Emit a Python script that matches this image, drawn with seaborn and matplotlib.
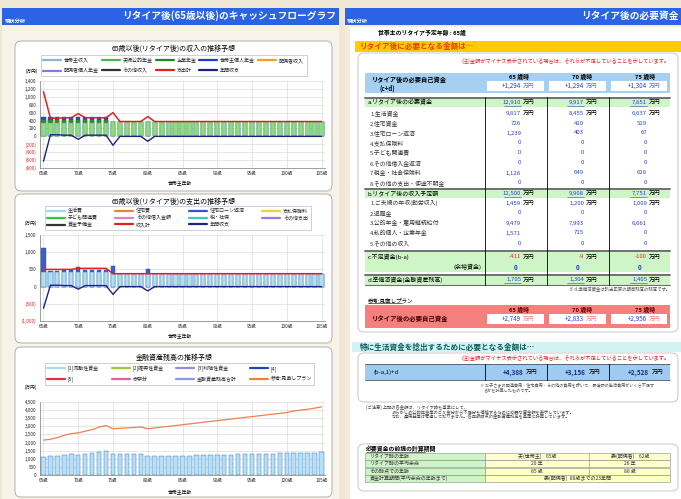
import numpy as np
import seaborn as sns
import matplotlib.pyplot as plt
from matplotlib.patches import Rectangle, FancyBboxPatch
from matplotlib.lines import Line2D

W, H = 681, 499

# ---- shared x axis ----
ages = list(range(65, 106))
age_tick_labels = ['65歳', '70歳', '75歳', '80歳', '85歳', '90歳', '95歳', '100歳', '105歳']

# ---- chart 1: income (万円) ----
public_pension = [350] * 10 + [370] * 31
corporate_pension = [60] * 10 + [0] * 31
private_pension = [90] * 10 + [0] * 31
expense_total = [1130, 460, 460, 470, 470, 575, 470, 470, 470, 470,
                 600, 375, 375, 375, 375, 500] + [375] * 25
annual_balance = [-630, 40, 40, 30, 30, -75, 30, 30, 30, 30,
                  -225, 0, 0, 0, 0, -125] + [0] * 25

# ---- chart 2: expenses (万円) ----
living_cost = [420] * 10 + [360] * 31
loan_repayment = [710, 40, 40, 50, 50, 155, 50, 50, 50, 50,
                  240, 15, 15, 15, 15, 140] + [15] * 25
income_total = [500] * 5 + [530] * 5 + [375] * 31

# ---- chart 3: financial assets (万円) ----
asset_balance = [1100, 1150, 1200, 1250, 1300, 1250, 1300, 1350, 1420, 1500,
                 1300, 1300, 1300, 1300, 1300, 1150, 1150, 1150, 1170, 1180,
                 1200, 1200, 1210, 1220, 1230, 1240, 1250, 1260, 1270, 1280,
                 1290, 1300, 1310, 1320, 1330, 1340, 1350, 1360, 1370, 1380, 1400]
review_plan = [2150, 2200, 2300, 2450, 2550, 2600, 2700, 2800, 2950, 3050,
               2850, 2880, 2900, 2930, 2960, 2850, 2900, 2950, 3000, 3050,
               3100, 3150, 3200, 3250, 3300, 3350, 3400, 3450, 3500, 3550,
               3600, 3650, 3700, 3750, 3800, 3850, 3950, 4000, 4050, 4120, 4200]

# ---- legends (row by row, as in the original) ----
income_legend = [('世帯主収入', '#8ab4d8'), ('夫婦公的年金', '#44bb44'), ('企業年金', '#228822'),
                 ('世帯主個人年金', '#1a3fcc'), ('配偶者収入', '#f0a020'), ('配偶者個人年金', '#8877dd'),
                 ('その他収入', '#333333'), ('支出計', '#e02020'), ('年間収支', '#1a237e')]
expense_legend = [('生活費', '#9fd8f0'), ('住宅費', '#e8843a'), ('住宅ローン返済', '#3355cc'),
                  ('支払保険料', '#f0d040'), ('子ども関連費', '#33cc33'), ('その他借入金額', '#e080c0'),
                  ('税・社保', '#33cccc'), ('その他支出', '#9977dd'), ('資金予備金', '#333333'),
                  ('収入計', '#e02020'), ('年間収支', '#1a237e')]
asset_legend = [('[1]流動性資金', '#a8dcf0'), ('[2]確実性資金', '#99cc33'), ('[3]利殖性資金', '#9988dd'),
                ('[4]', '#2244bb'), ('[5]', '#dd3344'), ('赤字分', '#e060a0'),
                ('金融資産残高合計', '#8899dd'), ('参考:見直しプラン', '#f08040')]

# ---- right-hand table ----
col_ages = ['65', '70', '75']
required_self = ['+1,294', '+1,294', '+1,304']
a_total = ['12,910', '9,917', '7,851']
a_labels = ['1.生活資金', '2.住宅資金', '3.住宅ローン返済', '4.支払保険料', '5.子ども関連費',
            '6.その他借入金返済', '7.税金・社会保険料', '8.その他の支出・使途不明金']
a_values = [['9,817', '8,455', '6,637'], ['726', '410', '519'], ['1,239', '403', '67'],
            ['0', '0', '0'], ['0', '0', '0'], ['0', '0', '0'], ['1,128', '649', '628'], ['0', '0', '0']]
b_total = ['12,500', '9,908', '7,751']
b_labels = ['1.ご夫婦の年収(勤労収入)', '2.退職金', '3.公的年金・雇用継続給付', '4.私的個人・企業年金', '5.その他の収入']
b_values = [['1,459', '1,200', '1,009'], ['0', '0', '0'], ['9,479', '7,993', '6,661'],
            ['1,571', '715', '0'], ['0', '0', '0']]
c_values = ['-411', '-9', '-100']
surplus_values = ['0', '0', '0']
d_values = ['1,705', '1,304', '1,405']
review_values = ['+2,749', '+2,833', '+2,956']
living_need = ['+4,388', '+3,156', '+2,528']
period_rows = [('リタイア時の年齢', '夫(世帯主)    65歳', '妻(配偶者)    62歳'),
               ('リタイア時の平均余命', '20 年', '26 年'),
               ('その時点での年齢', '85 歳', '88 歳'),
               ('資金計算期間(平均余命の年齢まで)', '妻(配偶者)  88歳までの23年間', None)]


def px_axes(fig, x0, y0, x1, y1):
    """Add an axes given pixel corners (top-left origin)."""
    return fig.add_axes([x0 / W, 1 - y1 / H, (x1 - x0) / W, (y1 - y0) / H])


def txt(ax, x, y, s, size=4.5, color='black', ha='left', weight='normal', **kw):
    ax.text(x, y, s, fontsize=size, color=color, ha=ha, va='center', weight=weight, **kw)


def rect(ax, x0, y0, x1, y1, fc, ec='none', lw=0.5, z=1):
    ax.add_patch(Rectangle((x0, y0), x1 - x0, y1 - y0, facecolor=fc, edgecolor=ec, linewidth=lw, zorder=z))


def rbox(ax, x0, y0, x1, y1, fc='white', ec='#b0b0b0', lw=0.7):
    ax.add_patch(FancyBboxPatch((x0, y0), x1 - x0, y1 - y0, boxstyle='round,pad=0,rounding_size=6',
                                facecolor=fc, edgecolor=ec, linewidth=lw, zorder=1))


def style_chart(ax, yticks, ylabels):
    ax.set_xlim(-0.5, len(ages) - 0.5)
    ax.set_ylim(yticks[0], yticks[-1])
    ax.set_xticks(range(0, len(ages), 5))
    ax.set_xticklabels(age_tick_labels, fontsize=3.3)
    ax.set_yticks(yticks)
    ax.set_yticklabels(ylabels, fontsize=3.3)
    for lbl, v in zip(ax.get_yticklabels(), yticks):
        if v < 0:
            lbl.set_color('#e02020')
    ax.grid(True, color='#d4d4d4', linewidth=0.4)
    ax.set_axisbelow(True)
    for side in ['top', 'right']:
        ax.spines[side].set_visible(False)
    for side in ['left', 'bottom']:
        ax.spines[side].set_color('#777777')
        ax.spines[side].set_linewidth(0.5)
    ax.tick_params(length=1.5, width=0.4, pad=1)
    ax.set_xlabel('')
    ax.set_ylabel('')


def add_legend(fig, ax, entries, ncol, box, spacing):
    # matplotlib fills legends column by column, so reorder to read row by row
    ordered = [e for c in range(ncol) for e in entries[c::ncol]]
    x0, y0, x1, y1 = box
    handles = [Line2D([0], [0], color=c, lw=1.6) for _, c in ordered]
    labels = [n for n, _ in ordered]
    leg = ax.legend(handles, labels, ncol=ncol, loc='center', mode='expand',
                    bbox_to_anchor=(x0 / W, 1 - y1 / H, (x1 - x0) / W, (y1 - y0) / H),
                    bbox_transform=fig.transFigure, fontsize=3.6, frameon=True, fancybox=False,
                    edgecolor='#999999', handlelength=3.6, handletextpad=0.6, borderpad=0.5,
                    labelspacing=spacing, columnspacing=0.8)
    leg.get_frame().set_linewidth(0.4)


def stacked_bars(ax, layers, width=0.6):
    """layers: list of (values, color, edge) from bottom to top; drawn as cumulative totals."""
    cum = np.cumsum([v for v, _, _ in layers], axis=0)
    for i in range(len(layers) - 1, -1, -1):
        _, color, edge = layers[i]
        sns.barplot(x=ages, y=cum[i], color=color, width=width, saturation=1, errorbar=None,
                    edgecolor=edge, linewidth=0.3, ax=ax)


def draw_left(fig, bg):
    idx = np.arange(len(ages))
    # header
    rect(bg, 2, 8, 339, 25, '#2a64e4')
    txt(bg, 5, 21, '現状分析', size=3.8, color='white', weight='bold')
    txt(bg, 336, 16, 'リタイア後(65歳以後)のキャッシュフローグラフ', size=7.0, color='white', ha='right', weight='bold')
    rect(bg, 2, 25, 339, 499, '#f8f3e8')

    # chart 1
    rbox(bg, 15, 41, 332, 191)
    txt(bg, 174, 49, '65歳以後(リタイア後)の収入の推移予想', size=5.0, ha='center')
    txt(bg, 26, 71, '(万円)', size=3.3)
    txt(bg, 180, 184, '世帯主年齢', size=3.5, ha='center')
    ax1 = px_axes(fig, 40, 81, 325, 168)
    stacked_bars(ax1, [(public_pension, '#8edc80', '#55b050'),
                       (corporate_pension, '#2e8b2e', '#2e8b2e'),
                       (private_pension, '#1f47d0', '#1f47d0')])
    sns.lineplot(x=idx, y=expense_total, color='#e02020', linewidth=1.1, ax=ax1)
    sns.lineplot(x=idx, y=annual_balance, color='#1a237e', linewidth=1.0, ax=ax1)
    yt = list(range(-800, 1401, 200))
    style_chart(ax1, yt, [f'{v:,}' if v >= 0 else f'({-v:,})' for v in yt])
    add_legend(fig, ax1, income_legend, 5, (38, 53, 309, 78), 1.0)

    # chart 2
    rbox(bg, 15, 194, 332, 343)
    txt(bg, 174, 202, '65歳以後(リタイア後)の支出の推移予想', size=5.0, ha='center')
    txt(bg, 25, 223, '(万円)', size=3.3)
    txt(bg, 180, 337, '世帯主年齢', size=3.5, ha='center')
    ax2 = px_axes(fig, 40, 235, 325, 321)
    stacked_bars(ax2, [(living_cost, '#aee0f2', '#2f6fbf'),
                       (loan_repayment, '#3a5fcd', '#2a4fb0')])
    sns.lineplot(x=idx, y=income_total, color='#e02020', linewidth=1.1, ax=ax2)
    sns.lineplot(x=idx, y=annual_balance, color='#1a237e', linewidth=1.0, ax=ax2)
    yt = list(range(-1000, 1501, 500))
    style_chart(ax2, yt, [f'{v:,}' if v >= 0 else f'({-v:,})' for v in yt])
    add_legend(fig, ax2, expense_legend, 4, (42, 206, 313, 230), 0.35)

    # chart 3
    rbox(bg, 15, 347, 332, 497)
    txt(bg, 174, 358, '金融資産残高の推移予想', size=5.0, ha='center')
    txt(bg, 25, 387, '(万円)', size=3.3)
    txt(bg, 180, 493, '世帯主年齢', size=3.5, ha='center')
    ax3 = px_axes(fig, 40, 402, 325, 475)
    stacked_bars(ax3, [(asset_balance, '#b3e2f6', '#2f5fb8')], width=0.65)
    sns.lineplot(x=idx, y=review_plan, color='#f08050', linewidth=0.9, ax=ax3)
    yt = list(range(0, 4501, 500))
    style_chart(ax3, yt, [f'{v:,}' for v in yt])
    add_legend(fig, ax3, asset_legend, 4, (42, 362, 317, 386), 1.0)


def draw_right(bg):
    cols_x = [485, 547, 609, 670]
    num_end = [521, 584, 647]
    unit_x = [523, 586, 649]
    blue = '#2a3fcc'

    rect(bg, 345, 8, 681, 25, '#2a64e4')
    txt(bg, 347, 21, '現状分析', size=3.8, color='white', weight='bold')
    txt(bg, 679, 16, 'リタイア後の必要資金', size=7.0, color='white', ha='right', weight='bold')
    rect(bg, 345, 25, 681, 499, '#f3ecdd')
    rect(bg, 350, 27, 681, 499, 'white')

    txt(bg, 378, 33, '世帯主のリタイア予定年齢 : 65歳', size=4.2, weight='bold')
    rect(bg, 355, 41, 681, 52, '#ffcc00')
    txt(bg, 360, 46.5, 'リタイア後に必要となる金額は…', size=5.5, color='#e04000', weight='bold')
    rbox(bg, 358, 53, 678, 332, ec='#c8c8c8')
    txt(bg, 670, 61, '(注)金額がマイナス表示されている場合は、それらが不足していることを示しています。',
        size=3.8, color='#e02020', ha='right')

    # required own funds box
    rect(bg, 365, 73, 670, 93, '#a6d0f2', z=2)
    txt(bg, 372, 79, 'リタイア後の必要自己資金', size=4.5, weight='bold', zorder=3)
    txt(bg, 380, 88, '(c+d)', size=4.5, weight='bold', zorder=3)
    for i in range(3):
        txt(bg, num_end[i] + 8, 77, f'{col_ages[i]} 歳時', size=4.2, ha='right', weight='bold', zorder=3)
        rect(bg, cols_x[i] + 2, 81, cols_x[i + 1] - 3, 91, 'white', z=3)
        txt(bg, num_end[i], 86, required_self[i], size=4.5, color=blue, ha='right', zorder=4)
        txt(bg, unit_x[i], 86, '万円', size=4.2, color='#6070d0', zorder=4)

    def green_row(y0, y1):
        rect(bg, 365, y0, 670, y1, '#cdf5c6', z=2)
        bg.plot([365, 670], [y0, y0], color='#707070', lw=1.4, zorder=3)

    def value_cells(y, vals, unit=False, color=blue, weight='normal', underline=False):
        for i, v in enumerate(vals):
            txt(bg, num_end[i], y, v, size=4.3, color=color, ha='right', weight=weight, zorder=4)
            if unit:
                txt(bg, unit_x[i], y, '万円', size=4.2, color='black', zorder=4)
                if underline:
                    bg.plot([num_end[i] - 17, num_end[i]], [y + 3, y + 3], color=color, lw=0.4, zorder=4)

    # a block
    green_row(98, 107)
    txt(bg, 368, 102.5, 'a.リタイア後の必要資金', size=4.3, zorder=4)
    value_cells(102.5, a_total, unit=True, underline=True)
    for r, (lab, vals) in enumerate(zip(a_labels, a_values)):
        y = 113 + 10 * r
        txt(bg, 370, y, lab, size=4.2, color='#333333', zorder=4)
        value_cells(y, vals, unit=(r == 0))
    # b block
    green_row(189, 198)
    txt(bg, 368, 193.5, 'b.リタイア後の収入予定額', size=4.3, zorder=4)
    value_cells(193.5, b_total, unit=True, underline=True)
    for r, (lab, vals) in enumerate(zip(b_labels, b_values)):
        y = 203 + 10 * r
        txt(bg, 370, y, lab, size=4.2, color='#333333', zorder=4)
        value_cells(y, vals, unit=(r == 0))
    # c block
    green_row(251, 272)
    txt(bg, 368, 257, 'c.不足資金(b-a)', size=4.3, zorder=4)
    txt(bg, 482, 267, '(余裕資金)', size=4.3, ha='right', zorder=4)
    value_cells(257, c_values, unit=True, color='#e03030')
    for i, v in enumerate(surplus_values):
        txt(bg, (cols_x[i] + cols_x[i + 1]) / 2, 267, v, size=4.5, color=blue, ha='center', weight='bold', zorder=4)
    # d block
    green_row(275, 285)
    bg.plot([365, 670], [285, 285], color='#707070', lw=0.8, zorder=3)
    txt(bg, 368, 280, 'd.準備済資金(金融資産残高)', size=4.3, zorder=4)
    value_cells(280, d_values, unit=True, underline=True)
    for x in cols_x[:3]:
        bg.plot([x, x], [97, 285], color='black', lw=0.6, zorder=3)
    txt(bg, 670, 290, '※ d.準備済資金は該当年度の期首残高の残高です。', size=3.2, color='#555555', ha='right')

    # review plan
    txt(bg, 368, 300, '参考:見直しプラン', size=4.0, zorder=4)
    bg.plot([368, 402], [303, 303], color='black', lw=0.4, zorder=4)
    rect(bg, 365, 305, 670, 328, '#f4807e', z=2)
    txt(bg, 372, 319, 'リタイア後の必要自己資金', size=4.6, color='#400000', weight='bold', zorder=4)
    for i in range(3):
        txt(bg, num_end[i] + 8, 310, f'{col_ages[i]} 歳時', size=4.2, color='#600000', ha='right', weight='bold', zorder=4)
        rect(bg, cols_x[i] + 2, 314, cols_x[i + 1] - 3, 324, 'white', z=3)
        txt(bg, num_end[i], 319, review_values[i], size=4.5, color=blue, ha='right', zorder=4)
        txt(bg, unit_x[i], 319, '万円', size=4.2, color='#f08080', zorder=4)

    # living-fund section
    rect(bg, 352, 342, 681, 352, '#d2f3f3')
    txt(bg, 360, 347, '特に生活資金を捻出するために必要となる金額は…', size=5.5, color='#0a5a5a', weight='bold')
    rbox(bg, 358, 353, 678, 402, ec='#c8c8c8')
    txt(bg, 670, 358, '(注)金額がマイナス表示されている場合は、それらが不足していることを示しています。',
        size=3.8, color='#e02020', ha='right')
    rect(bg, 365, 364, 670, 380, '#9ecbf2', z=2)
    bg.plot([365, 670], [364, 364], color='#555555', lw=0.6, zorder=3)
    bg.plot([365, 670], [380, 380], color='#555555', lw=0.6, zorder=3)
    txt(bg, 373, 372, '(b-a,1)+d', size=4.3, zorder=4)
    for i in range(3):
        bg.plot([cols_x[i], cols_x[i]], [364, 380], color='black', lw=0.6, zorder=3)
        txt(bg, num_end[i] + 2, 372, living_need[i], size=4.6, color='#1a2a80', ha='right', weight='bold', zorder=4)
        txt(bg, unit_x[i] + 3, 372, '万円', size=4.2, zorder=4)
    txt(bg, 480, 385, '※ お子さまの関連費用・住宅費用・その他の費用を除いて、最低限の生活費用がいくら不足す',
        size=3.0, color='#555555')
    txt(bg, 484, 390, 'るかを計算したものです。', size=3.0, color='#555555')

    txt(bg, 366, 407, '(ご注意) 上記の各金額は、リタイア時を基準にして、', size=3.1, color='#444444')
    txt(bg, 392, 412, 'あらかじめ公的年金等のご入金分から不足分を補填するために必要な資金額を表示しています。',
        size=3.1, color='#444444')
    txt(bg, 392, 417, 'なお、運用益等は考慮しておりません。各年齢時点の金融資産残高を基準に計算しています。',
        size=3.1, color='#444444')

    # calculation period table
    rbox(bg, 358, 444, 678, 491, ec='#c8c8c8')
    txt(bg, 366, 449, '必要資金の前提の計算期間', size=4.2, weight='bold', zorder=4)
    bg.plot([366, 425], [452, 452], color='black', lw=0.4, zorder=4)
    for r, (lab, v1, v2) in enumerate(period_rows):
        y0, y1 = 453 + 7.3 * r, 460 + 7.3 * r
        rect(bg, 365, y0, 485, y1, '#cdf5c6', ec='#888888', lw=0.4, z=2)
        rect(bg, 485, y0, 670, y1, '#ffffc8', ec='#888888', lw=0.4, z=2)
        yc = (y0 + y1) / 2
        txt(bg, 370, yc, lab, size=3.6, color='#333333', zorder=4)
        if v2 is None:
            txt(bg, 577, yc, v1, size=3.6, color='#333333', ha='center', zorder=4)
        else:
            bg.plot([589, 589], [y0, y1], color='#888888', lw=0.4, zorder=3)
            txt(bg, 537, yc, v1, size=3.6, color='#333333', ha='center', zorder=4)
            txt(bg, 630, yc, v2, size=3.6, color='#333333', ha='center', zorder=4)


def main():
    sns.set_style('white')
    plt.rcParams['font.family'] = ['Noto Sans CJK JP', 'DejaVu Sans']
    plt.rcParams['axes.unicode_minus'] = False

    fig = plt.figure(figsize=(W / 100, H / 100), dpi=100)
    fig.patch.set_facecolor('#efe7d6')
    bg = fig.add_axes([0, 0, 1, 1])
    bg.set_xlim(0, W)
    bg.set_ylim(H, 0)
    bg.axis('off')

    draw_left(fig, bg)
    draw_right(bg)

    fig.savefig('out.png', dpi=100, facecolor=fig.get_facecolor())


if __name__ == "__main__":
    main()
